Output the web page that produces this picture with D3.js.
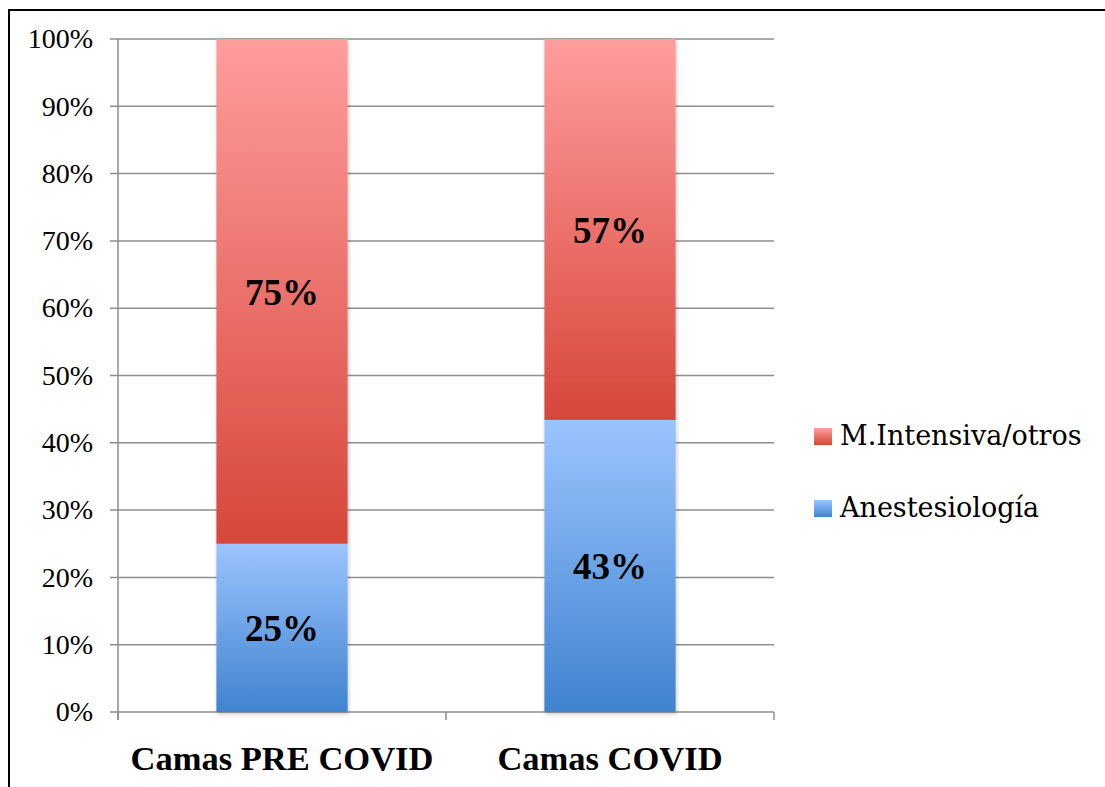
<!DOCTYPE html>
<html>
<head>
<meta charset="utf-8">
<script src="https://cdn.jsdelivr.net/npm/d3@7"></script>
<style>
  html, body { margin: 0; padding: 0; background: #fff; }
  svg { display: block; }
</style>
</head>
<body>
<svg id="chart" width="1105" height="787"></svg>
<script>
const categories = ["Camas PRE COVID", "Camas COVID"];
const anestesiologia = [25, 43.4];
const intensiva = [75, 56.6];
const seriesNames = ["M.Intensiva/otros", "Anestesiología"];
const yTicks = [0, 10, 20, 30, 40, 50, 60, 70, 80, 90, 100];

const svg = d3.select("#chart");
const serif = "'Liberation Serif', 'Times New Roman', serif";
const legendFont = "'DejaVu Serif', 'Liberation Serif', serif";

// frame
svg.append("path")
  .attr("d", "M9,787 L9,10 L1105,10")
  .attr("fill", "none").attr("stroke", "#000").attr("stroke-width", 2);

const defs = svg.append("defs");
function grad(id, top, bottom) {
  const g = defs.append("linearGradient").attr("id", id)
    .attr("x1", 0).attr("y1", 0).attr("x2", 0).attr("y2", 1);
  g.append("stop").attr("offset", "0%").attr("stop-color", top);
  g.append("stop").attr("offset", "100%").attr("stop-color", bottom);
}
grad("gRed", "#ff9d9d", "#d7463a");
grad("gBlue", "#9cc4ff", "#3f83cf");
const f = defs.append("filter").attr("id", "shadow")
  .attr("x", "-10%").attr("y", "-10%").attr("width", "130%").attr("height", "130%");
f.append("feDropShadow").attr("dx", 1).attr("dy", 2).attr("stdDeviation", 2)
  .attr("flood-color", "#000").attr("flood-opacity", 0.22);

const x = d3.scaleBand().domain(categories).range([118, 774])
  .paddingInner(0.6).paddingOuter(0.3);
const step = x.step();
const y = d3.scaleLinear().domain([0, 100]).range([712, 39]);

// gridlines
svg.append("g").selectAll("line").data(yTicks).join("line")
  .attr("x1", 110).attr("x2", 774)
  .attr("y1", d => y(d)).attr("y2", d => y(d))
  .attr("stroke", "#8e8e8e").attr("stroke-width", 1.5);

// y axis line
svg.append("line").attr("x1", 118).attr("x2", 118).attr("y1", y(100)).attr("y2", 720)
  .attr("stroke", "#8e8e8e").attr("stroke-width", 1.5);

// category ticks
const bounds = [0, 1, 2].map(i => 118 + i * step);
svg.append("g").selectAll("line").data(bounds).join("line")
  .attr("x1", d => d).attr("x2", d => d).attr("y1", y(0)).attr("y2", 720)
  .attr("stroke", "#8e8e8e").attr("stroke-width", 1.5);

// y tick labels
svg.append("g").selectAll("text").data(yTicks).join("text")
  .attr("x", 93).attr("y", d => y(d))
  .attr("dy", "0.33em")
  .attr("text-anchor", "end")
  .attr("font-family", serif).attr("font-size", 28)
  .attr("fill", "#000")
  .text(d => d + "%");

// bars
const bars = svg.append("g").attr("filter", "url(#shadow)");
categories.forEach((c, i) => {
  const a = anestesiologia[i], m = intensiva[i];
  bars.append("rect")
    .attr("x", x(c)).attr("width", x.bandwidth())
    .attr("y", y(a)).attr("height", y(0) - y(a))
    .attr("fill", "url(#gBlue)");
  bars.append("rect")
    .attr("x", x(c)).attr("width", x.bandwidth())
    .attr("y", y(a + m)).attr("height", y(a) - y(a + m))
    .attr("fill", "url(#gRed)");
});

// value labels
categories.forEach((c, i) => {
  const a = anestesiologia[i], m = intensiva[i];
  const cx = x(c) + x.bandwidth() / 2;
  [[a / 2, a], [a + m / 2, m]].forEach(([pos, v]) => {
    svg.append("text")
      .attr("x", cx).attr("y", y(pos)).attr("dy", "0.36em")
      .attr("text-anchor", "middle")
      .attr("font-family", serif).attr("font-weight", "bold").attr("font-size", 37)
      .attr("fill", "#000")
      .text(Math.round(v) + "%");
  });
});

// category labels
svg.append("g").selectAll("text").data(categories).join("text")
  .attr("x", d => x(d) + x.bandwidth() / 2).attr("y", 770)
  .attr("text-anchor", "middle")
  .attr("font-family", serif).attr("font-weight", "bold").attr("font-size", 34.5)
  .attr("fill", "#000")
  .text(d => d);

// legend
const legend = svg.append("g");
const lg = [["gRed", seriesNames[0], 428], ["gBlue", seriesNames[1], 500]];
lg.forEach(([g, name, ly]) => {
  legend.append("rect").attr("x", 814).attr("y", ly).attr("width", 18).attr("height", 17)
    .attr("fill", `url(#${g})`);
  legend.append("text").attr("x", 840).attr("y", ly + 17)
    .attr("font-family", legendFont).attr("font-size", 27).attr("fill", "#000")
    .text(name);
});
</script>
</body>
</html>
